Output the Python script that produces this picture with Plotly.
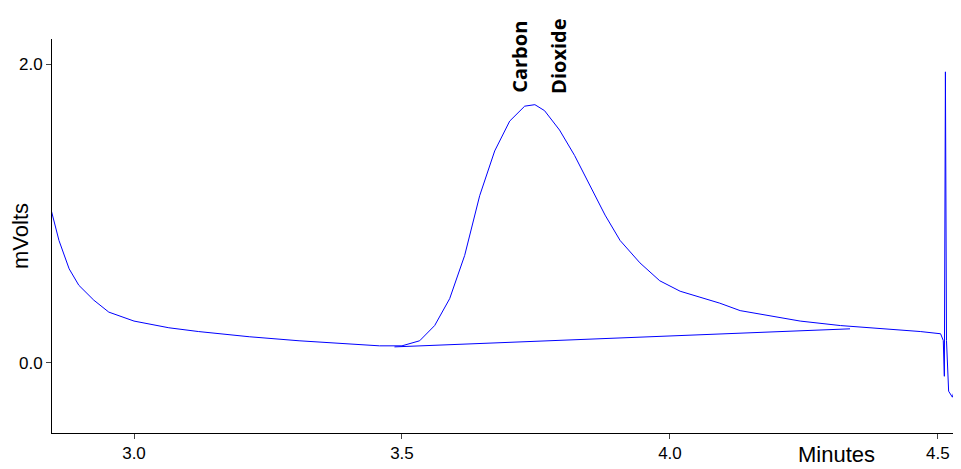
import plotly.graph_objects as go

# chromatogram trace
minutes = [2.845, 2.86, 2.879, 2.897, 2.925, 2.953, 3.0, 3.065, 3.12, 3.215, 3.308,
           3.402, 3.458, 3.5, 3.533, 3.561, 3.589, 3.617, 3.645, 3.673, 3.701, 3.729,
           3.748, 3.766, 3.794, 3.822, 3.85, 3.879, 3.907, 3.944, 3.981, 4.019, 4.056,
           4.093, 4.131, 4.187, 4.243, 4.318, 4.393, 4.467, 4.505, 4.51, 4.512, 4.514,
           4.516, 4.52, 4.527, 4.538, 4.545]
mvolts = [1.03, 0.82, 0.63, 0.52, 0.42, 0.34, 0.28, 0.235, 0.21, 0.175, 0.148,
          0.128, 0.114, 0.114, 0.148, 0.25, 0.43, 0.72, 1.12, 1.42, 1.62, 1.72,
          1.73, 1.69, 1.56, 1.39, 1.19, 0.99, 0.82, 0.67, 0.55, 0.48, 0.44,
          0.40, 0.35, 0.315, 0.28, 0.25, 0.23, 0.21, 0.195, 0.15, -0.09, 1.95,
          0.15, -0.19, -0.23, -0.09, -0.09]

baseline_x = [3.486, 4.336]
baseline_y = [0.107, 0.228]

fig = go.Figure()
fig.add_trace(go.Scatter(x=minutes, y=mvolts, mode="lines",
                         line=dict(color="#0000ff", width=1)))
fig.add_trace(go.Scatter(x=baseline_x, y=baseline_y, mode="lines",
                         line=dict(color="#0000ff", width=1)))

for txt, x in [("Carbon", 3.72), ("Dioxide", 3.793)]:
    fig.add_annotation(x=x, y=2.05, text="<b>%s</b>" % txt, textangle=-90,
                       showarrow=False, font=dict(family="Open Sans", size=20, color="black"))

fig.add_annotation(x=4.31, xref="x", y=-0.055, yref="paper", yanchor="middle",
                   text="Minutes", showarrow=False,
                   font=dict(family="Liberation Sans", size=22, color="black"))

fig.update_layout(
    width=961, height=469, showlegend=False,
    plot_bgcolor="white", paper_bgcolor="white",
    margin=dict(l=44, r=0, t=31, b=44),
    font=dict(family="Liberation Sans", size=16, color="black"),
    xaxis=dict(range=[2.847, 4.558], tickvals=[3.0, 3.5, 4.0, 4.5],
               ticktext=["3.0", "3.5", "4.0", "4.5"], showgrid=False, zeroline=False,
               showline=True, linecolor="black", ticks="outside", ticklen=5,
               automargin=False, tickfont=dict(size=17)),
    yaxis=dict(range=[-0.47, 2.17], tickvals=[0.0, 2.0], ticktext=["0.0", "2.0"],
               showgrid=False, zeroline=False, showline=True, linecolor="black",
               ticks="outside", ticklen=5, automargin=False, tickfont=dict(size=17),
               title=dict(text="mVolts", font=dict(size=22), standoff=6)),
)

fig.write_html("out.html")
